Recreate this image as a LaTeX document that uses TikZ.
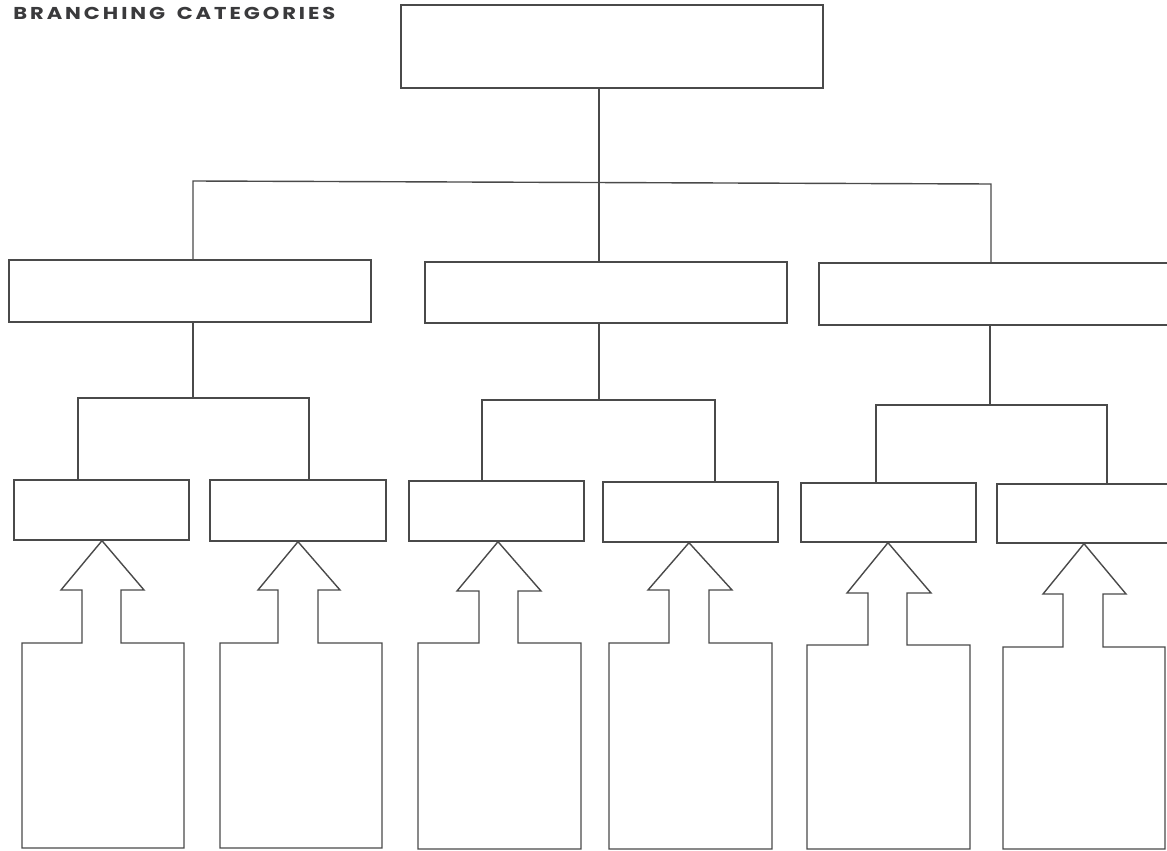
\documentclass[tikz,border=0pt]{standalone}
\usepackage{fontspec}
\setmainfont{Poppins}
\usetikzlibrary{fit}
\definecolor{linec}{HTML}{4A4A4A}
\definecolor{titlec}{HTML}{3A3A3C}
\newcommand\bx[5]{%
  \coordinate (#1-a) at (#2,#3);
  \coordinate (#1-b) at (#4,#5);
  \node[box, fit=(#1-a)(#1-b)] (#1) {};}
\begin{document}
\begin{tikzpicture}[x=0.02cm,y=-0.02cm,
  box/.style={draw=linec, line width=0.8pt, inner sep=0pt},
  conn/.style={draw=linec, line width=0.8pt, line join=miter},
  title/.style={inner sep=0pt, anchor=north west, text=titlec, font=\bfseries}]
\useasboundingbox (0,0) rectangle (1167,851);
\clip (0,0) rectangle (1167,851);

\node[title] (ttl) at (13,7) {\resizebox{6.44cm}{0.245cm}{\addfontfeatures{LetterSpace=14}BRANCHING\hspace{0.55em}CATEGORIES}};

% boxes
\bx{top}{401}{5}{823}{88}
\bx{A}{9}{260}{371}{322}
\bx{B}{425}{262}{787}{323}
\bx{C}{819}{263}{1185}{325}
\bx{b1}{14}{480}{189}{540}
\bx{b2}{210}{480}{386}{541}
\bx{b3}{409}{481}{584}{541}
\bx{b4}{603}{482}{778}{542}
\bx{b5}{801}{483}{976}{542}
\bx{b6}{997}{484}{1185}{543}

% top level connectors
\coordinate (j0) at (599,182.5);
\coordinate (jA) at (193,181);
\coordinate (jC) at (991,184);
\draw[conn] (top.south -| j0) -- (j0);
\draw[conn] (A.north -| jA) -- (jA) -- (jC) -- (C.north -| jC);
\draw[conn] (j0) -- (B.north -| j0);

% second level connectors
\coordinate (kA) at (193,398);
\coordinate (kA1) at (78,398);
\coordinate (kA2) at (309,398);
\draw[conn] (A.south -| kA) -- (kA);
\draw[conn] (b1.north -| kA1) -- (kA1) -- (kA2) -- (b2.north -| kA2);

\coordinate (kB) at (599,400);
\coordinate (kB1) at (482,400);
\coordinate (kB2) at (715,400);
\draw[conn] (B.south -| kB) -- (kB);
\draw[conn] (b3.north -| kB1) -- (kB1) -- (kB2) -- (b4.north -| kB2);

\coordinate (kC) at (990,405);
\coordinate (kC1) at (876,405);
\coordinate (kC2) at (1107,405);
\draw[conn] (C.south -| kC) -- (kC);
\draw[conn] (b5.north -| kC1) -- (kC1) -- (kC2) -- (b6.north -| kC2);

% arrow + box shapes
\foreach \n/\tx/\hl/\hr/\hy/\sl/\sr/\sy/\bl/\br/\bb in {
  b1/102/61/144/590/82/121/643/22/184/848,
  b2/298/258/340/590/278/318/643/220/382/848,
  b3/498/457/541/591/479/518/643/418/581/849,
  b4/689/648/732/590/669/709/643/609/772/849,
  b5/888/847/931/593/868/907/645/807/970/849,
  b6/1084/1043/1126/594/1063/1103/647/1003/1165/849}{
  \coordinate (\n-t) at (\tx,0);
  \draw[conn] (\n.south -| \n-t) -- (\hr,\hy) -- (\sr,\hy) -- (\sr,\sy) -- (\br,\sy)
     -- (\br,\bb) -- (\bl,\bb) -- (\bl,\sy) -- (\sl,\sy) -- (\sl,\hy) -- (\hl,\hy) -- cycle;
}
\end{tikzpicture}
\end{document}
